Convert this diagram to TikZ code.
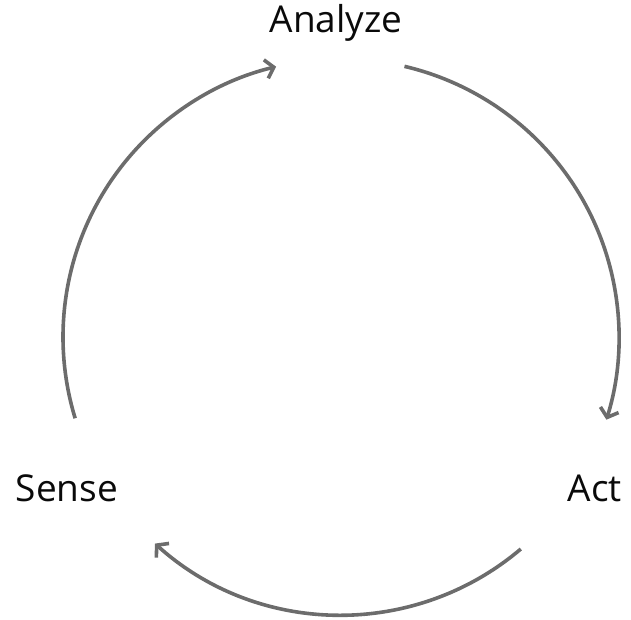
\documentclass[tikz,border=0pt]{standalone}
\usepackage{fontspec}
\setmainfont{Open Sans}
\usepackage{tikz}
\usetikzlibrary{arrows.meta, calc}
\definecolor{mygrey}{RGB}{108,108,108}
\definecolor{mydark}{RGB}{10,10,10}
\tikzset{
  label/.style={font=\fontsize{37}{44}\selectfont, text=mydark, inner sep=0pt, anchor=base},
  cycarrow/.style={-{Straight Barb[length=8pt, width=19pt, line width=3.6pt]}, line width=3.6pt, color=mygrey}
}

\begin{document}
\begin{tikzpicture}[x=1pt, y=1pt]
  \useasboundingbox (0,0) rectangle (631,620);

  \coordinate (centre) at (341,283);

  \node[label] (analyze) at (336,587) {Analyze};
  \node[label] (act) at (595,118) {Act};
  \node[label] (sense) at (67,118) {Sense};

  % arc ends, going round clockwise
  \coordinate (a1) at ($(centre)+(76.8:278)$);
  \coordinate (s1) at ($(centre)+(197:278)$);
  \coordinate (b1) at ($(centre)+(-49.7:278)$);

  \draw[cycarrow] (a1) arc[start angle=76.8, end angle=-17.3, radius=278];
  \draw[cycarrow] (b1) arc[start angle=-49.7, end angle=-132, radius=278];
  \draw[cycarrow] (s1) arc[start angle=197, end angle=103.5, radius=278];
\end{tikzpicture}
\end{document}
